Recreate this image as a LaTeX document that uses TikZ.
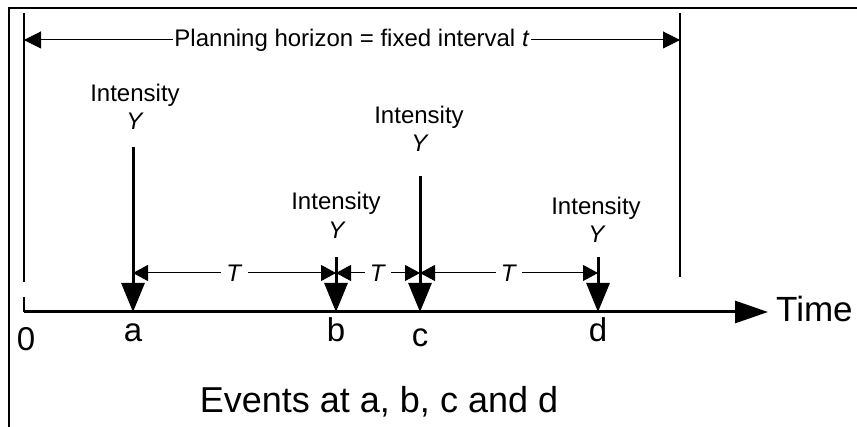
\documentclass[tikz,border=0pt]{standalone}
\usepackage{fontspec}
\setmainfont{Liberation Sans}
\usetikzlibrary{arrows.meta}
\tikzset{
  frameline/.style={line width=1.5pt},
  guide/.style={line width=1.1pt},
  evt/.style={line width=3pt,-{Triangle[length=29pt,width=23pt]}},
  axisline/.style={line width=3pt,-{Triangle[length=33pt,width=22pt]}},
  tarr/.style={line width=1pt,{Triangle[length=15pt,width=16pt]}-{Triangle[length=15pt,width=16pt]}},
  plan/.style={line width=1pt,{Triangle[length=17pt,width=17pt]}-{Triangle[length=17pt,width=17pt]}},
  small/.style={font=\fontsize{24}{28}\selectfont,inner sep=0pt},
  big/.style={font=\fontsize{33}{38}\selectfont,inner sep=0pt},
  huge/.style={font=\fontsize{35}{40}\selectfont,inner sep=0pt},
  caption/.style={font=\fontsize{36}{40}\selectfont,inner sep=0pt},
}
\begin{document}
\begin{tikzpicture}[x=1pt,y=-1pt]
\useasboundingbox (0,0) rectangle (857,427);
% outer frame (top and left edges)
\coordinate (ftl) at (9,8);
\coordinate (ftr) at (857,8);
\coordinate (fbl) at (9,427);
\draw[frameline] (ftr) -- (ftl) -- (fbl);
% inner guides
\coordinate (gl1) at (24,13);
\coordinate (gl2) at (24,282);
\coordinate (gl3) at (24,297);
\coordinate (gr1) at (680,13);
\coordinate (gr2) at (680,277);
\draw[guide] (gl1) -- (gl2);
\draw[guide] (gl3) -- (24,312);
\draw[guide] (gr1) -- (gr2);
% planning horizon
\coordinate (pl) at (24,40);
\coordinate (pr) at (680,40);
\draw[plan] (pl) -- node[small,fill=white,inner xsep=1.5pt,inner ysep=2pt] (ptext) {Planning horizon = fixed interval \textit{t}} (pr);
% time axis
\coordinate (ax0) at (24,312);
\coordinate (axend) at (768,312);
\draw[axisline] (ax0) -- (axend);
\node[huge,anchor=base west] (time) at (776,322) {Time};
% events
\coordinate (a) at (133,312);
\coordinate (b) at (336,312);
\coordinate (c) at (420,312);
\coordinate (d) at (598,312);
\coordinate (atop) at (133,147);
\coordinate (btop) at (336,257);
\coordinate (ctop) at (420,176);
\coordinate (dtop) at (598,257);
\draw[evt] (atop) -- (a);
\draw[evt] (btop) -- (b);
\draw[evt] (ctop) -- (c);
\draw[evt] (dtop) -- (d);
% intensity labels
\node[small,anchor=base] (ia) at (135,102) {Intensity};
\node[small,anchor=base] (ya) at (135,130) {\textit{Y}};
\node[small,anchor=base] (ib) at (336,210) {Intensity};
\node[small,anchor=base] (yb) at (337,239) {\textit{Y}};
\node[small,anchor=base] (ic) at (419,124) {Intensity};
\node[small,anchor=base] (yc) at (420,152) {\textit{Y}};
\node[small,anchor=base] (id) at (596,215) {Intensity};
\node[small,anchor=base] (yd) at (597,243) {\textit{Y}};
% T intervals
\coordinate (aT) at (133,273);
\coordinate (bT) at (336,273);
\coordinate (cT) at (420,273);
\coordinate (dT) at (598,273);
\draw[tarr] (aT) -- node[small,fill=white,inner xsep=5pt,inner ysep=1pt] (t1) {\textit{T}} (bT);
\draw[tarr] (bT) -- node[small,fill=white,inner xsep=5pt,inner ysep=1pt] (t2) {\textit{T}} (cT);
\draw[tarr] (cT) -- node[small,fill=white,inner xsep=5pt,inner ysep=1pt] (t3) {\textit{T}} (dT);
% axis labels
\node[big,anchor=base] (l0) at (26,351) {0};
\node[big,anchor=base] (la) at (133,342) {a};
\node[big,anchor=base] (lb) at (336,342) {b};
\node[big,anchor=base] (lc) at (420,347) {c};
\node[big,anchor=base] (ld) at (598,342) {d};
% caption
\node[caption,anchor=base] (cap) at (379,413) {Events at a, b, c and d};
\end{tikzpicture}
\end{document}
